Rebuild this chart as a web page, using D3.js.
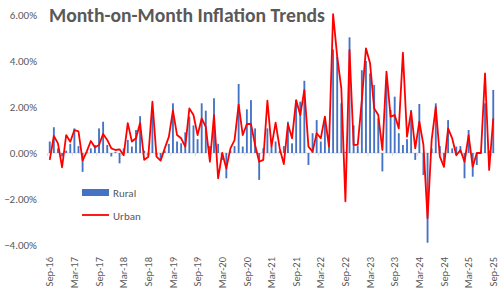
<!doctype html>
<html>
<head>
<meta charset="utf-8">
<script src="https://d3js.org/d3.v7.min.js"></script>
<style>
  body { margin: 0; background: #fff; }
  text { font-family: Calibri, Carlito, "Open Sans", sans-serif; fill: #595959; }
</style>
</head>
<body>
<svg width="500" height="295"></svg>
<script>
// monthly categories Sep-16 .. Sep-25
var months = d3.timeMonths(new Date(2016, 8, 1), new Date(2025, 9, 1)).map(d3.timeFormat("%b-%y"));

var tickLabels = ["Sep-16","Mar-17","Sep-17","Mar-18","Sep-18","Mar-19","Sep-19","Mar-20","Sep-20",
                  "Mar-21","Sep-21","Mar-22","Sep-22","Mar-23","Sep-23","Mar-24","Sep-24","Mar-25","Sep-25"];

var yTicks = [6, 4, 2, 0, -2, -4];

// Rural (bars), % m-o-m
var rural = [0.5,1.12,0.2,-0.15,0.1,0.4,1.07,0.3,-0.82,0.05,0.2,0.35,1.07,1.36,0.35,-0.15,0.05,-0.45,0.2,0.57,
             0.28,1.0,1.6,0.1,-0.1,1.65,-0.1,-0.3,0.1,0.4,2.16,0.5,0.42,0.9,1.58,1.2,0.6,2.16,1.84,0.3,
             2.38,0.4,-0.3,-1.1,0.1,0.3,3.0,0.28,1.9,2.3,1.07,-1.17,0.2,1.07,0.28,0.5,0.1,0.3,1.36,0.42,
             2.3,2.23,3.14,-0.52,0.86,1.43,0.5,1.58,0.5,4.5,4.19,2.16,0.05,5.03,1.2,0.3,3.6,4.0,3.46,2.96,
             1.5,-0.8,3.0,1.87,2.45,0.86,0.35,0.6,1.87,-0.3,2.13,-0.96,-3.9,0.2,2.16,0.3,-0.4,1.43,0.2,0.28,
             0.3,-1.1,1.0,-1.03,-0.52,0.1,2.16,0.1,2.74];

// Urban (line), % m-o-m
var urban = [-0.3,0.74,0.42,-0.62,0.78,0.49,1.0,0.94,-0.33,0.06,0.52,0.25,0.35,0.83,0.57,0.2,0.13,0.16,-0.1,1.3,
             0.5,0.64,1.3,-0.3,-0.16,2.23,-0.16,-0.33,0.2,0.7,1.84,0.78,0.64,0.28,1.94,1.65,0.78,1.5,1.14,-0.38,
             1.65,-1.1,0.0,-0.67,0.2,0.56,2.1,0.78,1.26,1.26,0.35,-0.38,-0.3,2.28,0.28,1.32,0.2,-0.48,1.26,0.64,
             2.3,1.65,2.74,0.28,0.06,0.86,0.64,1.58,0.28,6.04,4.19,2.81,-2.1,4.48,0.35,0.35,2.3,4.55,3.9,1.94,
             1.65,0.13,3.54,1.58,1.65,1.07,4.36,0.71,1.8,0.2,1.36,0.35,-2.84,0.57,2.0,-0.16,-0.6,1.07,0.64,-0.1,
             0.13,-0.38,0.78,-0.6,0.0,0.0,3.46,-0.74,1.5];

var svg = d3.select("svg");

var xScale = d3.scaleBand().domain(months).range([48, 495]).paddingInner(0.55).paddingOuter(0.2),
    yScale = d3.scaleLinear().domain([-4, 6]).range([245, 15]);

var cx = function(m) { return xScale(m) + xScale.bandwidth() / 2; };

// y labels
svg.append("g")
   .selectAll("text")
   .data(yTicks)
   .enter().append("text")
   .attr("x", 37)
   .attr("y", function(d) { return yScale(d); })
   .attr("dy", "0.35em")
   .attr("text-anchor", "end")
   .attr("font-size", "11px")
   .text(function(d) { return d3.format(".2f")(d) + "%"; });

// zero axis line with ticks
var zero = svg.append("g").attr("transform", "translate(0," + yScale(0) + ")");
zero.append("line")
    .attr("x1", 48).attr("x2", 495)
    .attr("stroke", "#d9d9d9").attr("stroke-width", 1);
zero.selectAll(".tk")
    .data(tickLabels)
    .enter().append("line")
    .attr("class", "tk")
    .attr("x1", function(d) { return xScale(d) - xScale.step() * 0.275; })
    .attr("x2", function(d) { return xScale(d) - xScale.step() * 0.275; })
    .attr("y1", 0).attr("y2", 3)
    .attr("stroke", "#d9d9d9");

// bars
svg.append("g")
   .selectAll("rect")
   .data(rural)
   .enter().append("rect")
   .attr("x", function(d, i) { return xScale(months[i]); })
   .attr("y", function(d) { return yScale(Math.max(0, d)); })
   .attr("width", xScale.bandwidth())
   .attr("height", function(d) { return Math.abs(yScale(d) - yScale(0)); })
   .attr("fill", "#4472c4");

// line
var line = d3.line()
    .x(function(d, i) { return cx(months[i]); })
    .y(function(d) { return yScale(d); });

svg.append("path")
   .datum(urban)
   .attr("d", line)
   .attr("fill", "none")
   .attr("stroke", "#ff0000")
   .attr("stroke-width", 1.8)
   .attr("stroke-linejoin", "round");

// x labels, low position
var xAxis = svg.append("g")
   .attr("transform", "translate(0,257)")
   .call(d3.axisBottom(xScale).tickValues(tickLabels).tickSize(0));
xAxis.select(".domain").remove();
xAxis.selectAll("text")
     .attr("font-family", null)
     .attr("font-size", "10.5px")
     .attr("fill", "#595959")
     .attr("transform", "rotate(-90)")
     .attr("x", 0).attr("y", 0)
     .attr("dy", "0.35em")
     .attr("text-anchor", "end");

// title
var title = svg.append("text")
   .attr("x", 49)
   .attr("y", 22)
   .attr("font-size", "18px")
   .attr("font-weight", "bold")
   .text("Month-on-Month Inflation Trends");
var tw = title.node().getComputedTextLength();
title.attr("font-size", (18 * 276 / tw) + "px");

// legend
var legend = svg.append("g");
legend.append("rect")
      .attr("x", 82).attr("y", 189).attr("width", 27).attr("height", 7)
      .attr("fill", "#4472c4");
legend.append("text")
      .attr("x", 113).attr("y", 193).attr("dy", "0.35em")
      .attr("font-size", "11px").text("Rural");
legend.append("line")
      .attr("x1", 82).attr("x2", 109).attr("y1", 215).attr("y2", 215)
      .attr("stroke", "#ff0000").attr("stroke-width", 1.8);
legend.append("text")
      .attr("x", 113).attr("y", 216).attr("dy", "0.35em")
      .attr("font-size", "11px").text("Urban");
</script>
</body>
</html>
